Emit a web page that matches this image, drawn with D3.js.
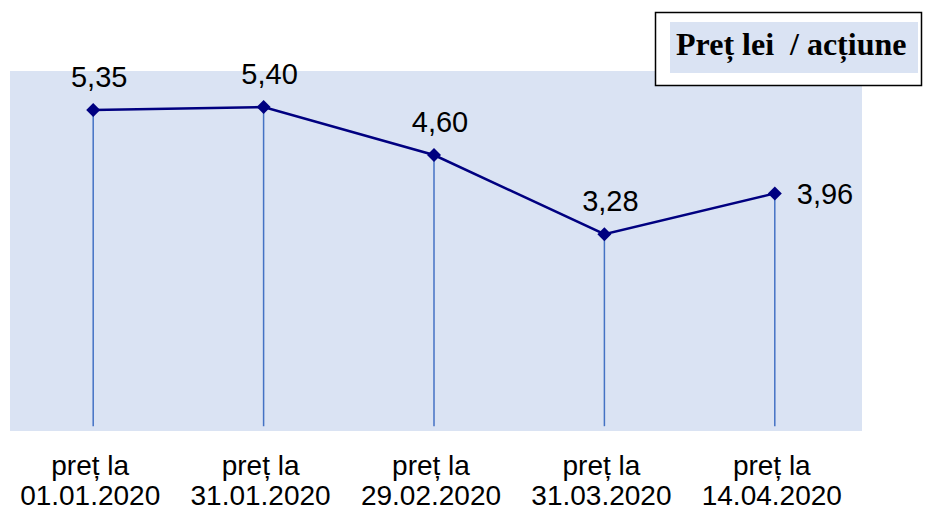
<!DOCTYPE html>
<html>
<head>
<meta charset="utf-8">
<script src="https://cdn.jsdelivr.net/npm/d3@7"></script>
<style>
  body { margin: 0; background: #fff; }
  svg { display: block; }
</style>
</head>
<body>
<script>
var categories = ["01.01.2020", "31.01.2020", "29.02.2020", "31.03.2020", "14.04.2020"];
var prices = [5.35, 5.40, 4.60, 3.28, 3.96];
var priceLabels = ["5,35", "5,40", "4,60", "3,28", "3,96"];
var legendText = "Preț lei  / acțiune";

var w = 925, h = 511;
var plot = { left: 10, right: 862, top: 71, bottom: 431 };

var svg = d3.select("body").append("svg")
  .attr("width", w)
  .attr("height", h);

var xScale = d3.scaleBand()
  .domain(d3.range(categories.length))
  .range([plot.left - 2, plot.right - 2]);

var yScale = d3.scaleLinear()
  .domain([0, 6])
  .range([plot.bottom, plot.top]);

var cx = function(i) { return xScale(i) + xScale.bandwidth() / 2; };

svg.append("rect")
  .attr("x", plot.left)
  .attr("y", plot.top)
  .attr("width", plot.right - plot.left)
  .attr("height", plot.bottom - plot.top)
  .attr("fill", "#dae3f3");

// drop lines
svg.selectAll("line.drop")
  .data(prices)
  .enter()
  .append("line")
  .attr("class", "drop")
  .attr("x1", function(d, i) { return cx(i); })
  .attr("x2", function(d, i) { return cx(i); })
  .attr("y1", function(d) { return yScale(d); })
  .attr("y2", yScale(0.08))
  .attr("stroke", "#4472c4")
  .attr("stroke-width", 1.5);

var line = d3.line()
  .x(function(d, i) { return cx(i); })
  .y(function(d) { return yScale(d); });

svg.append("path")
  .datum(prices)
  .attr("d", line)
  .attr("fill", "none")
  .attr("stroke", "#000080")
  .attr("stroke-width", 2.5);

svg.selectAll("path.marker")
  .data(prices)
  .enter()
  .append("path")
  .attr("class", "marker")
  .attr("d", "M0,-7L7,0L0,7L-7,0Z")
  .attr("transform", function(d, i) { return "translate(" + cx(i) + "," + yScale(d) + ")"; })
  .attr("fill", "#000080");

// value labels
svg.selectAll("text.val")
  .data(prices)
  .enter()
  .append("text")
  .attr("class", "val")
  .attr("x", function(d, i) { return i === 4 ? cx(i) + 22 : cx(i) + 6; })
  .attr("y", function(d, i) { return i === 4 ? yScale(d) + 11 : yScale(d) - 23; })
  .attr("text-anchor", function(d, i) { return i === 4 ? "start" : "middle"; })
  .attr("font-family", "Liberation Sans, Arial, sans-serif")
  .attr("font-size", 29)
  .attr("fill", "#000")
  .text(function(d, i) { return priceLabels[i]; });

// category labels
var cat = svg.selectAll("text.cat")
  .data(categories)
  .enter()
  .append("text")
  .attr("class", "cat")
  .attr("text-anchor", "middle")
  .attr("font-family", "Liberation Sans, Arial, sans-serif")
  .attr("font-size", 28)
  .attr("fill", "#000");
cat.append("tspan")
  .attr("x", function(d, i) { return cx(i) - 3; })
  .attr("y", 475)
  .text("preț la");
cat.append("tspan")
  .attr("x", function(d, i) { return cx(i) - 3; })
  .attr("y", 505)
  .text(function(d) { return d; });

// legend box
svg.append("rect")
  .attr("x", 655.5).attr("y", 12.5)
  .attr("width", 266).attr("height", 73)
  .attr("fill", "#fff")
  .attr("stroke", "#000")
  .attr("stroke-width", 1.5);
svg.append("rect")
  .attr("x", 670).attr("y", 22)
  .attr("width", 248).attr("height", 51)
  .attr("fill", "#dae3f3");
svg.append("text")
  .attr("x", 676).attr("y", 55)
  .attr("font-family", "Liberation Serif, Times New Roman, serif")
  .attr("font-weight", "bold")
  .attr("font-size", 32)
  .style("white-space", "pre")
  .attr("fill", "#000")
  .text(legendText);
</script>
</body>
</html>
